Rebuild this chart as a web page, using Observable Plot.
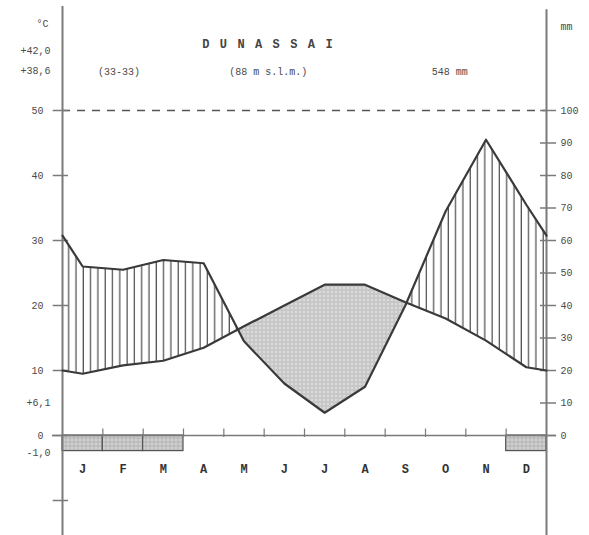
<!DOCTYPE html>
<html><head><meta charset="utf-8">
<script src="https://cdn.jsdelivr.net/npm/d3@7"></script>
<script src="https://cdn.jsdelivr.net/npm/@observablehq/plot@0.6"></script>
<style>body{margin:0;background:#fff} svg{display:block} .station text{letter-spacing:1.6px}</style>
</head><body><div id="chart"></div>
<script>
// ---- data ----
const months = ["J","F","M","A","M","J","J","A","S","O","N","D"];
const temperature = [9.5,10.8,11.5,13.5,16.8,20.0,23.2,23.2,20.5,18.0,14.6,10.5]; // °C
const precipitation = [52,51,54,53,29,16,7,15,40,69,91,71]; // mm
const frostMonths = [0,1,2,11];
const tempTicks = [0,10,20,30,40,50];
const tempTickMarks = [-10,0,10,20,30,40,50];
const precipTicks = [0,10,20,30,40,50,60,70,80,90,100];
const extraTempLabels = [{t:5, label:"+6,1"},{t:-2.6, label:"-1,0"}];
const station = "D U N A S S A I";
const years = "(33-33)";
const altitude = "(88 m s.l.m.)";
const totalPrecip = "548 mm";
const tempMaxLabels = ["+42,0","+38,6"];

// ---- build series (month centres + edges joined Dec/Jan) ----
const edgeT = (temperature[0]+temperature[11])/2;
const edgeP = (precipitation[0]+precipitation[11])/2;
const base = [{x:0, T:edgeT, P2:edgeP/2}]
  .concat(months.map((m,i)=>({x:i+0.5, T:temperature[i], P2:precipitation[i]/2})))
  .concat([{x:12, T:edgeT, P2:edgeP/2}]);
const filled = [];
for (let i=0;i<base.length;i++){
  const a = base[i]; filled.push(a);
  const b = base[i+1]; if (!b) break;
  const da = a.P2-a.T, db = b.P2-b.T;
  if (da*db < 0){
    const f = da/(da-db);
    filled.push({x:a.x+f*(b.x-a.x), T:a.T+f*(b.T-a.T), P2:a.P2+f*(b.P2-a.P2)});
  }
}

const ink = "#3a3a3a", txt = "#4a4a4a", axisC = "#7a7a7a";
const font = "'Liberation Mono', 'DejaVu Sans Mono', monospace";

const chart = Plot.plot({
  width: 589, height: 535,
  marginLeft: 62, marginRight: 43, marginTop: 0, marginBottom: 0,
  x: {domain:[0,12], axis:null},
  y: {domain:[-100/6.5, 435/6.5], axis:null},
  style: {fontFamily: font, fontSize: "10px", color: txt, background: "#fff"},
  marks: [
    // humid & arid areas
    Plot.areaY(filled, {x:"x", y1:"T", y2:d=>Math.max(d.T,d.P2), fill:"url(#vhatch)", curve:"linear"}),
    Plot.areaY(filled, {x:"x", y1:"P2", y2:d=>Math.max(d.T,d.P2), fill:"url(#dots)", curve:"linear"}),
    // frost boxes
    Plot.rect(frostMonths, {x1:d=>d, x2:d=>d+1, y1:0, y2:-2.4, fill:"url(#frost)", stroke:"#555", strokeWidth:1.2}),
    // reference lines
    Plot.ruleY([50], {stroke:"#555", strokeWidth:1.4, strokeDasharray:"8,7"}),
    Plot.ruleY([0], {x1:-0.25, x2:12.25, stroke:axisC, strokeWidth:1.5}),
    Plot.ruleX(d3.range(1,12), {y1:-0.3, y2:1, stroke:axisC, strokeWidth:1.2}),
    // axes
    Plot.ruleX([0], {y1:-15.4, y2:66, stroke:axisC, strokeWidth:2}),
    Plot.ruleX([12], {y1:-15.4, y2:65.5, stroke:axisC, strokeWidth:2}),
    Plot.ruleY(tempTickMarks, {x1:-0.23, x2:0.15, stroke:axisC, strokeWidth:1.5}),
    Plot.ruleY(precipTicks, {y:d=>d/2, x1:11.85, x2:12.25, stroke:axisC, strokeWidth:1.5}),
    // curves
    Plot.line(base, {x:"x", y:"P2", stroke:ink, strokeWidth:2.2}),
    Plot.line(base, {x:"x", y:"T", stroke:ink, strokeWidth:2.2}),
    // axis labels
    Plot.text(tempTicks, {y:d=>d, text:d=>String(d), frameAnchor:"left", dx:-19, textAnchor:"end", fill:txt}),
    Plot.text(extraTempLabels, {y:"t", text:"label", frameAnchor:"left", dx:-12, textAnchor:"end", fill:txt}),
    Plot.text(precipTicks, {y:d=>d/2, text:d=>String(d), frameAnchor:"right", dx:14, textAnchor:"start", fill:txt}),
    // month labels
    Plot.text(months, {x:(d,i)=>i+0.5, text:d=>d, frameAnchor:"bottom", dy:-63, fontWeight:"bold", fontSize:12, fill:"#333"}),
    // header
    Plot.text(["°C"], {text:d=>d, frameAnchor:"top-left", dx:-14, dy:19, textAnchor:"end", fill:txt}),
    Plot.text([tempMaxLabels[0]], {text:d=>d, frameAnchor:"top-left", dx:-12, dy:46, textAnchor:"end", fill:txt}),
    Plot.text([tempMaxLabels[1]], {text:d=>d, frameAnchor:"top-left", dx:-12, dy:66, textAnchor:"end", fill:txt}),
    Plot.text(["mm"], {text:d=>d, frameAnchor:"top-right", dx:14, dy:22, textAnchor:"start", fill:txt}),
    Plot.text([station], {text:d=>d, x:5.1, frameAnchor:"top", dy:39, fontWeight:"bold", fontSize:12, fill:"#444", className:"station"}),
    Plot.text([years], {text:d=>d, x:1.4, frameAnchor:"top", dy:67, fill:txt}),
    Plot.text([altitude], {text:d=>d, x:5.1, frameAnchor:"top", dy:67, fill:txt}),
    Plot.text([totalPrecip], {text:d=>d, x:9.6, frameAnchor:"top", dy:67, fill:txt})
  ]
});

d3.select(chart).insert("defs", ":first-child").html(`
  <pattern id="vhatch" patternUnits="userSpaceOnUse" width="7.3" height="10">
    <rect width="7.3" height="10" fill="#fff"/>
    <line x1="3" y1="0" x2="3" y2="10" stroke="#4a4a4a" stroke-width="1.2"/>
  </pattern>
  <pattern id="dots" patternUnits="userSpaceOnUse" width="4" height="4">
    <rect width="4" height="4" fill="#dcdcdc"/>
    <circle cx="2" cy="2" r="1.2" fill="#f5f5f5" stroke="#8f8f8f" stroke-width="0.6"/>
  </pattern>
  <pattern id="frost" patternUnits="userSpaceOnUse" width="4" height="4">
    <rect width="4" height="4" fill="#d0d0d0"/>
    <circle cx="2" cy="2" r="1.1" fill="#eee" stroke="#888" stroke-width="0.6"/>
  </pattern>`);

document.getElementById("chart").appendChild(chart);
</script>
</body></html>
